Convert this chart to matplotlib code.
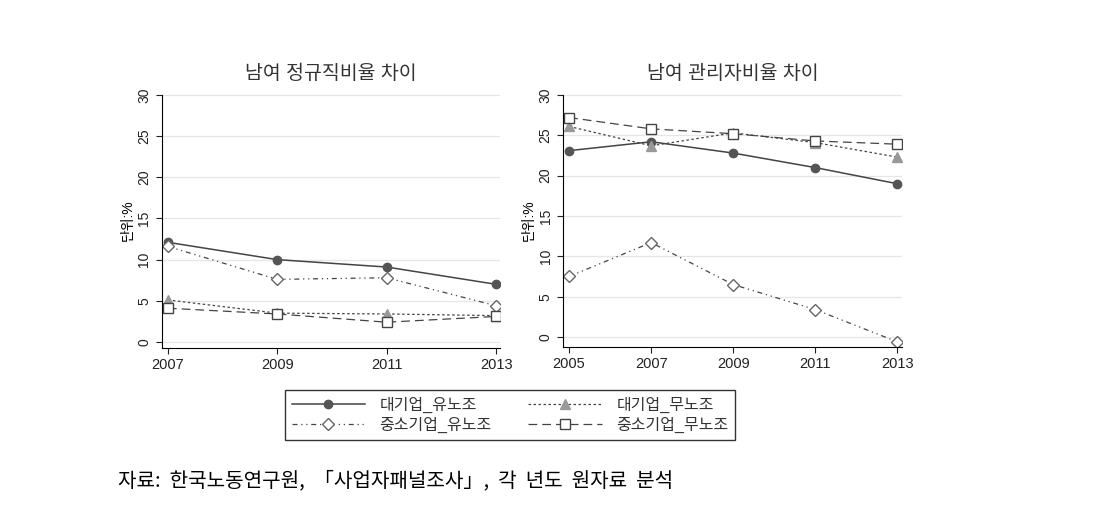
import matplotlib
matplotlib.use("Agg")
import matplotlib.pyplot as plt

plt.rcParams['font.family'] = ['Liberation Sans', 'Noto Sans CJK KR', 'DejaVu Sans']

# left panel: 정규직비율 차이
years_reg = [2007, 2009, 2011, 2013]
reg_large_union = [12.1, 10.0, 9.1, 7.0]
reg_large_nounion = [5.1, 3.5, 3.4, 3.2]
reg_small_union = [11.6, 7.6, 7.8, 4.4]
reg_small_nounion = [4.1, 3.4, 2.4, 3.1]

# right panel: 관리자비율 차이
years_mgr = [2005, 2007, 2009, 2011, 2013]
mgr_large_union = [23.1, 24.2, 22.8, 21.0, 19.0]
mgr_large_nounion = [26.1, 23.7, 25.3, 24.1, 22.3]
mgr_small_union = [7.5, 11.7, 6.5, 3.4, -0.6]
mgr_small_nounion = [27.2, 25.8, 25.2, 24.3, 23.9]

labels = ['대기업_유노조', '대기업_무노조', '중소기업_유노조', '중소기업_무노조']
titles = ['남여 정규직비율 차이', '남여 관리자비율 차이']

styles = [
    dict(color='#444444', linestyle='-', lw=1.1, marker='o', ms=6,
         mfc='#555555', mec='#555555'),
    dict(color='#444444', linestyle=(0, (2, 2)), lw=0.9, marker='^', ms=7,
         mfc='#999999', mec='#999999'),
    dict(color='#444444', linestyle=(0, (4, 3, 1, 3, 1, 3)), lw=0.9, marker='D', ms=6,
         mfc='white', mec='#666666'),
    dict(color='#444444', linestyle=(0, (7, 4)), lw=0.9, marker='s', ms=6.5,
         mfc='white', mec='#444444'),
]

fig = plt.figure(figsize=(10.94, 5.08), dpi=100)
ax1 = fig.add_axes([0.148, 0.315, 0.309, 0.502])
ax2 = fig.add_axes([0.5146, 0.317, 0.310, 0.500])

panels = [
    (ax1, years_reg, [reg_large_union, reg_large_nounion, reg_small_union, reg_small_nounion],
     (2006.89, 2013.07), (-0.73, 30.24)),
    (ax2, years_mgr, [mgr_large_union, mgr_large_nounion, mgr_small_union, mgr_small_nounion],
     (2004.85, 2013.12), (-1.24, 30.25)),
]

handles = []
for i, (ax, yrs, series, xl, yl) in enumerate(panels):
    for s, lab, st in zip(series, labels, styles):
        h, = ax.plot(yrs, s, label=lab, **st)
        if i == 0:
            handles.append(h)
    ax.set_xlim(*xl)
    ax.set_ylim(*yl)
    ax.set_xticks(yrs)
    ax.set_yticks([0, 5, 10, 15, 20, 25, 30])
    ax.tick_params(axis='y', labelrotation=90, labelsize=10, length=4, colors='#222222')
    ax.tick_params(axis='x', labelsize=10.5, length=4, colors='#222222')
    for lbl in ax.get_yticklabels():
        lbl.set_va('center')
    ax.grid(axis='y', color='#e6e6e6', lw=0.9)
    ax.set_axisbelow(True)
    ax.spines['top'].set_visible(False)
    ax.spines['right'].set_visible(False)
    ax.spines['left'].set_bounds(yl[0], 30)
    ax.set_ylabel('단위:%', fontsize=10, labelpad=2)
    ax.set_title(titles[i], fontsize=14, color='#333333', pad=10)

# legend fills column-wise, reorder so rows read 대기업 / 중소기업
order = [0, 2, 1, 3]
leg = fig.legend([handles[k] for k in order], [labels[k] for k in order],
                 ncol=2, loc='center', bbox_to_anchor=(510 / 1094, 1 - 415 / 508),
                 frameon=True, fancybox=False, edgecolor='black', fontsize=11.5,
                 handlelength=4.6, columnspacing=2.3, handletextpad=0.9,
                 borderpad=0.4, labelspacing=0.25)
leg.get_frame().set_linewidth(1.0)
for t in leg.get_texts():
    t.set_color('#333333')

fig.text(118 / 1094, 1 - 481 / 508, '자료:  한국노동연구원,  「사업자패널조사」,  각  년도  원자료  분석',
         fontsize=14.5, va='center', ha='left', family=['Noto Sans CJK KR', 'DejaVu Sans'])

fig.savefig('out.png', dpi=100, facecolor='white')
